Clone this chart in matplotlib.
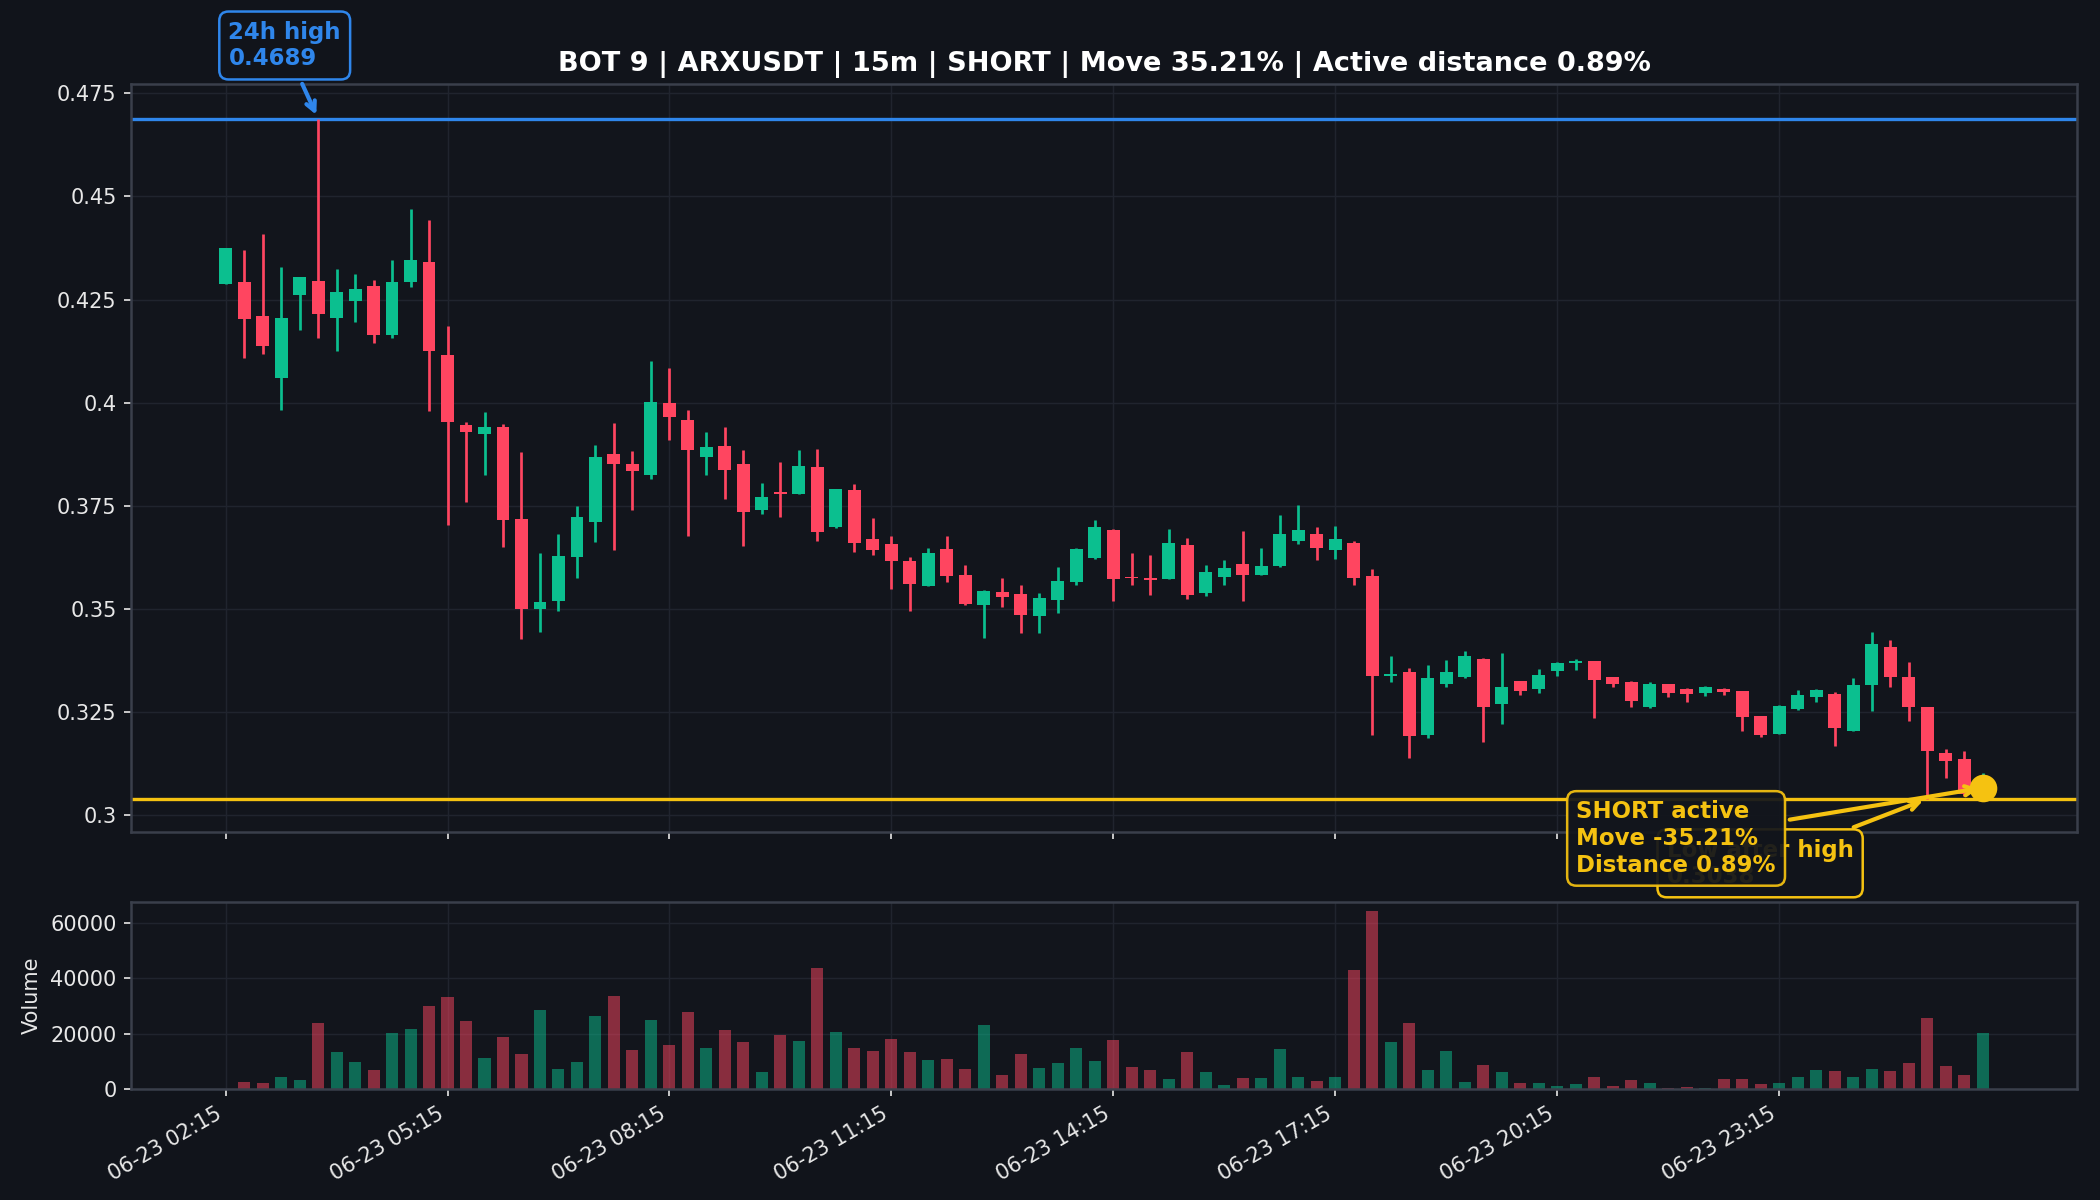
import numpy as np
import pandas as pd
import matplotlib
matplotlib.use('Agg')
import matplotlib.pyplot as plt
import matplotlib.dates as mdates
from matplotlib.ticker import FuncFormatter, MultipleLocator

# 15m candles, ARXUSDT
start = '2025-06-23 02:15'
opens = [0.4288, 0.4292, 0.4209, 0.4060, 0.4262, 0.4295, 0.4205, 0.4246, 0.4283, 0.4164,
         0.4292, 0.4342, 0.4116, 0.3946, 0.3923, 0.3940, 0.3717, 0.3500, 0.3519, 0.3625,
         0.3709, 0.3874, 0.3852, 0.3823, 0.4000, 0.3958, 0.3867, 0.3895, 0.3851, 0.3740,
         0.3784, 0.3777, 0.3844, 0.3697, 0.3788, 0.3668, 0.3656, 0.3615, 0.3555, 0.3644,
         0.3582, 0.3509, 0.3541, 0.3535, 0.3482, 0.3521, 0.3565, 0.3622, 0.3690, 0.3576,
         0.3574, 0.3572, 0.3655, 0.3537, 0.3576, 0.3608, 0.3581, 0.3603, 0.3663, 0.3682,
         0.3642, 0.3659, 0.3578, 0.3336, 0.3345, 0.3194, 0.3316, 0.3333, 0.3378, 0.3269,
         0.3324, 0.3305, 0.3348, 0.3367, 0.3372, 0.3333, 0.3323, 0.3262, 0.3316, 0.3305,
         0.3294, 0.3306, 0.3299, 0.3239, 0.3196, 0.3256, 0.3286, 0.3293, 0.3204, 0.3315,
         0.3406, 0.3335, 0.3260, 0.3150, 0.3135, 0.3050]
highs = [0.4374, 0.4370, 0.4409, 0.4330, 0.4304, 0.4689, 0.4323, 0.4311, 0.4297, 0.4346,
         0.4469, 0.4444, 0.4186, 0.3953, 0.3977, 0.3949, 0.3879, 0.3636, 0.3682, 0.3749,
         0.3896, 0.3951, 0.3882, 0.4100, 0.4085, 0.3982, 0.3928, 0.3940, 0.3885, 0.3805,
         0.3856, 0.3885, 0.3888, 0.3790, 0.3803, 0.3720, 0.3677, 0.3626, 0.3648, 0.3677,
         0.3606, 0.3545, 0.3574, 0.3556, 0.3537, 0.3600, 0.3648, 0.3716, 0.3692, 0.3635,
         0.3631, 0.3692, 0.3672, 0.3606, 0.3619, 0.3689, 0.3647, 0.3728, 0.3752, 0.3698,
         0.3701, 0.3665, 0.3596, 0.3386, 0.3356, 0.3362, 0.3374, 0.3398, 0.3380, 0.3391,
         0.3324, 0.3354, 0.3371, 0.3377, 0.3373, 0.3335, 0.3324, 0.3321, 0.3318, 0.3308,
         0.3312, 0.3308, 0.3300, 0.3240, 0.3265, 0.3303, 0.3306, 0.3297, 0.3331, 0.3444,
         0.3423, 0.3371, 0.3261, 0.3160, 0.3154, 0.3100]
lows = [0.4288, 0.4107, 0.4118, 0.3983, 0.4177, 0.4157, 0.4124, 0.4195, 0.4144, 0.4157,
        0.4281, 0.3980, 0.3704, 0.3758, 0.3823, 0.3650, 0.3427, 0.3442, 0.3493, 0.3574,
        0.3661, 0.3642, 0.3740, 0.3814, 0.3910, 0.3677, 0.3825, 0.3767, 0.3652, 0.3730,
        0.3722, 0.3777, 0.3664, 0.3695, 0.3637, 0.3630, 0.3547, 0.3494, 0.3555, 0.3564,
        0.3509, 0.3428, 0.3504, 0.3440, 0.3440, 0.3489, 0.3556, 0.3620, 0.3519, 0.3556,
        0.3532, 0.3572, 0.3523, 0.3530, 0.3556, 0.3518, 0.3581, 0.3602, 0.3657, 0.3617,
        0.3621, 0.3557, 0.3192, 0.3322, 0.3137, 0.3186, 0.3309, 0.3331, 0.3176, 0.3221,
        0.3291, 0.3295, 0.3336, 0.3352, 0.3234, 0.3310, 0.3262, 0.3258, 0.3286, 0.3274,
        0.3289, 0.3291, 0.3204, 0.3188, 0.3195, 0.3254, 0.3273, 0.3166, 0.3204, 0.3252,
        0.3310, 0.3228, 0.3038, 0.3089, 0.3045, 0.3045]
closes = [0.4374, 0.4203, 0.4138, 0.4205, 0.4304, 0.4216, 0.4268, 0.4275, 0.4163, 0.4292,
          0.4346, 0.4125, 0.3953, 0.3928, 0.3940, 0.3714, 0.3500, 0.3515, 0.3628, 0.3721,
          0.3867, 0.3851, 0.3835, 0.4002, 0.3965, 0.3884, 0.3892, 0.3837, 0.3735, 0.3771,
          0.3779, 0.3847, 0.3685, 0.3790, 0.3659, 0.3642, 0.3615, 0.3559, 0.3635, 0.3579,
          0.3510, 0.3543, 0.3528, 0.3484, 0.3525, 0.3566, 0.3644, 0.3698, 0.3571, 0.3574,
          0.3569, 0.3658, 0.3532, 0.3589, 0.3599, 0.3581, 0.3603, 0.3682, 0.3690, 0.3646,
          0.3669, 0.3574, 0.3336, 0.3342, 0.3190, 0.3332, 0.3345, 0.3386, 0.3261, 0.3310,
          0.3299, 0.3338, 0.3367, 0.3373, 0.3327, 0.3317, 0.3275, 0.3316, 0.3294, 0.3293,
          0.3310, 0.3298, 0.3238, 0.3194, 0.3263, 0.3290, 0.3303, 0.3210, 0.3315, 0.3414,
          0.3333, 0.3262, 0.3154, 0.3131, 0.3050, 0.3065]
volumes = [0, 2700, 2000, 4500, 3100, 23800, 13300, 9700, 6800, 20100,
           21600, 29900, 33100, 24500, 11100, 18700, 12500, 28400, 7100, 9600,
           26300, 33700, 14100, 24900, 15900, 27800, 14800, 21300, 17000, 6100,
           19500, 17300, 43700, 20600, 14800, 13700, 18000, 13300, 10500, 10800,
           7200, 22900, 5000, 12600, 7600, 9400, 14800, 10100, 17700, 7900,
           6900, 3600, 13300, 6100, 1400, 4000, 4000, 14400, 4300, 2900,
           4300, 43000, 64200, 17000, 23800, 6900, 13700, 2500, 8700, 6100,
           2200, 2200, 1100, 1800, 4300, 1100, 3200, 2200, 300, 700,
           200, 3600, 3600, 1800, 2200, 4300, 6900, 6500, 4300, 7200,
           6500, 9400, 25600, 8300, 5000, 20200]

high_24h = 0.4689
high_idx = 5
low_after_high = 0.3038
low_idx = 92
title = 'BOT 9 | ARXUSDT | 15m | SHORT | Move 35.21% | Active distance 0.89%'
high_label = '24h high\n0.4689'
low_label = 'Low after high\n0.3038'
short_label = 'SHORT active\nMove -35.21%\nDistance 0.89%'

# colours
BG = '#11141b'
AX_BG = '#12151c'
GRID = '#20242e'
SPINE = '#3a3f4b'
TXT = '#e8e8e8'
UP = '#0bbf8f'
DOWN = '#ff4560'
BLUE = '#2f86eb'
YELLOW = '#f5c211'

o = np.array(opens)
h = np.array(highs)
l = np.array(lows)
c = np.array(closes)
v = np.array(volumes)

times = pd.date_range(start, periods=len(o), freq='15min')
x = mdates.date2num(times)
dt = 15 / 1440
colors = np.where(c >= o, UP, DOWN)

fig, (ax, axv) = plt.subplots(2, 1, figsize=(14, 8), dpi=150, sharex=True,
                              gridspec_kw={'height_ratios': [4, 1]})
fig.patch.set_facecolor(BG)
fig.subplots_adjust(left=0.0625, right=0.989, top=0.93, bottom=0.0925, hspace=0.15)

for a in (ax, axv):
    a.set_facecolor(AX_BG)
    a.grid(True, color=GRID, lw=0.7)
    a.set_axisbelow(True)
    for s in a.spines.values():
        s.set_color(SPINE)
        s.set_linewidth(1.2)
    a.tick_params(colors=TXT, labelsize=10)

# candles
ax.vlines(x, l, h, colors=colors, lw=1.3, zorder=2)
ax.bar(x, np.maximum(np.abs(c - o), 0.0003), bottom=np.minimum(o, c),
       width=dt * 0.7, color=colors, zorder=3)

ax.axhline(high_24h, color=BLUE, lw=1.6, zorder=1)
ax.axhline(low_after_high, color=YELLOW, lw=1.6, zorder=1)
ax.scatter([x[-1]], [c[-1]], s=150, color=YELLOW, zorder=6)

ax.annotate(high_label, xy=(x[high_idx], high_24h), xytext=(-43, 47),
            textcoords='offset points', ha='left', va='top',
            color=BLUE, fontsize=11, fontweight='bold', annotation_clip=False,
            bbox=dict(boxstyle='round,pad=0.4', fc=BG, ec=BLUE, lw=1.2),
            arrowprops=dict(arrowstyle='->', color=BLUE, lw=2))
ax.annotate(low_label, xy=(x[low_idx], low_after_high), xytext=(-125, -19),
            textcoords='offset points', ha='left', va='top',
            color=YELLOW, fontsize=11, fontweight='bold', annotation_clip=False, zorder=7,
            bbox=dict(boxstyle='round,pad=0.4', fc=BG, ec=YELLOW, lw=1.2),
            arrowprops=dict(arrowstyle='->', color=YELLOW, lw=2))
ax.annotate(short_label, xy=(x[-1], c[-1]), xytext=(-195, -6),
            textcoords='offset points', ha='left', va='top',
            color=YELLOW, fontsize=11, fontweight='bold', annotation_clip=False, zorder=8,
            bbox=dict(boxstyle='round,pad=0.4', fc=AX_BG, ec=YELLOW, lw=1.2, alpha=0.93),
            arrowprops=dict(arrowstyle='->', color=YELLOW, lw=2))

ax.set_ylim(0.2958, 0.4773)
ax.yaxis.set_major_locator(MultipleLocator(0.025))
ax.yaxis.set_major_formatter(FuncFormatter(lambda val, pos: f'{val:g}'))
ax.set_title(title, color='white', fontsize=13, fontweight='bold')

# volume
axv.bar(x, v, width=dt * 0.65, color=colors, alpha=0.5)
axv.set_ylim(0, v.max() * 1.05)
axv.set_ylabel('Volume', color=TXT, fontsize=10)

axv.set_xlim(x[0] - 5.1 * dt, x[-1] + 5.1 * dt)
axv.set_xticks(x[::12])
axv.xaxis.set_major_formatter(mdates.DateFormatter('%m-%d %H:%M'))
plt.setp(axv.get_xticklabels(), rotation=30, ha='right')

fig.savefig('out.png', dpi=150, facecolor=fig.get_facecolor())
